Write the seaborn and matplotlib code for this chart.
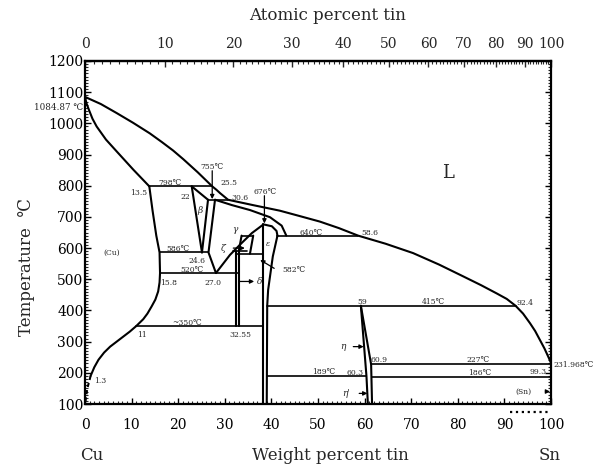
import numpy as np
import pandas as pd
import matplotlib
matplotlib.use("Agg")
import matplotlib.pyplot as plt
import matplotlib.transforms as mtransforms
from matplotlib.ticker import MultipleLocator, FixedLocator
import seaborn as sns

# ---------------- data (wt% Sn, temperature in deg C) ----------------
liquidus_wt = [0, 3.4, 6.8, 10.3, 13.9, 16.5, 18.9, 21.1, 24.2, 27.3, 28.2, 29.0, 29.9, 30.7,
               36.0, 41.8, 46.0, 50.4, 54.5, 58.6, 64.5, 70.4, 76.0, 81.2, 85.0, 88.3, 90.5,
               92.4, 94.0, 95.5, 96.6, 97.6, 98.6, 99.4, 100]
liquidus_T = [1084.87, 1062, 1033, 1002, 968, 940, 913, 885, 843, 798, 787, 776, 765, 755,
              738, 720, 703, 685, 664, 640, 614, 584, 547, 509, 481, 455, 437,
              415, 390, 359, 334, 306, 278, 252, 231.968]

alpha_solidus_wt = [0, 0.3, 0.8, 1.6, 2.5, 4.5, 6.8, 10.4, 13.8]
alpha_solidus_T = [1084.87, 1065, 1045, 1015, 990, 948, 910, 851, 798]

alpha_solvus_wt = [13.8, 14.5, 15.3, 16.0, 16.1, 16.0, 15.7, 15.1, 14.3, 13.4, 12.5, 11.0,
                   9.6, 8.2, 6.8, 5.4, 4.1, 2.9, 2.0, 1.2]
alpha_solvus_T = [798, 720, 640, 586, 520, 490, 461, 435, 413, 390, 372, 350,
                  332, 316, 300, 284, 265, 242, 218, 190]
alpha_solvus_dash_wt = [1.2, 0.5, 0.0]
alpha_solvus_dash_T = [190, 150, 100]

beta_left_wt, beta_left_T = [22.9, 25.1], [798, 586]
beta_top_wt, beta_top_T = [22.9, 26.4], [798, 755]
beta_right_wt, beta_right_T = [26.4, 25.1], [755, 586]
gamma_left_wt, gamma_left_T = [27.9, 26.5, 28.1], [755, 586, 520]
gamma_solidus_wt = [27.9, 31.5, 35.4, 39.7, 42.2, 43.2]
gamma_solidus_T = [755, 738, 722, 699, 672, 640]
gamma_dome_wt = [28.1, 31.1, 33.6, 35.8, 38.3, 40.1, 41.1, 41.3]
gamma_dome_T = [520, 578, 616, 648, 676, 670, 655, 640]
eps_left_wt, eps_left_T = [38.3, 38.3], [676, 100]
eps_right_wt = [41.3, 40.3, 39.7, 39.3, 39.1, 39.0]
eps_right_T = [640, 573, 509, 466, 415, 100]
zeta_left_wt, zeta_left_T = [33.6, 33.0], [640, 590]
zeta_right_wt, zeta_right_T = [36.1, 35.4], [640, 582]
delta_left_wt, delta_left_T = [32.5, 32.5], [590, 350]
delta_right_wt, delta_right_T = [33.1, 33.1], [590, 350]
eta_left_wt, eta_left_T = [59.2, 60.4, 60.7], [415, 189, 100]
eta_right_wt, eta_right_T = [59.2, 61.4, 61.6], [415, 227, 100]

iso_T = [798, 755, 640, 640, 590, 586, 582, 520, 415, 350, 227, 189, 186]
iso_x0 = [13.8, 26.4, 41.3, 33.6, 31.8, 16.0, 32.5, 16.1, 39.0, 11.0, 61.4, 39.0, 61.5]
iso_x1 = [27.3, 30.7, 58.6, 36.1, 34.8, 26.5, 38.3, 33.1, 92.4, 38.3, 100, 60.4, 100]

wt_ticks = list(range(0, 101, 10))
at_ticks = list(range(0, 101, 10))
T_ticks = list(range(100, 1201, 100))

labels_txt = ["798℃", "22", "755℃", "25.5", "30.6", "676℃", "640℃", "58.6", "586℃", "24.6",
              "520℃", "15.8", "27.0", "~350℃", "11", "32.55", "1.3", "59", "415℃", "92.4",
              "60.9", "227℃", "189℃", "60.3", "186℃", "99.3", "(Cu)"]
labels_wt = [18.3, 21.5, 27.2, 31.0, 33.3, 38.6, 48.6, 61.2, 20.0, 24.0,
             22.9, 17.9, 27.5, 21.8, 12.2, 33.3, 3.3, 59.4, 74.7, 94.4,
             63.0, 84.4, 51.2, 57.9, 84.8, 97.3, 5.7]
labels_T = [809, 765, 859, 808, 762, 781, 648, 648, 596, 560,
            530, 489, 489, 361, 322, 322, 175, 428, 428, 423,
            240, 241, 204, 201, 201, 204, 584]

# --------------------------------------------------------------------
sns.set_theme(style="ticks")
plt.rcParams["font.family"] = ["DejaVu Serif", "DejaVu Sans"]
plt.rcParams["mathtext.fontset"] = "dejavuserif"

fig = plt.figure(figsize=(6.04, 4.66), dpi=100)
ax = fig.add_axes([85 / 604, 62 / 466, 466 / 604, 343 / 466])

curves = [
    (liquidus_wt, liquidus_T), (alpha_solidus_wt, alpha_solidus_T),
    (alpha_solvus_wt, alpha_solvus_T), (beta_left_wt, beta_left_T),
    (beta_top_wt, beta_top_T), (beta_right_wt, beta_right_T),
    (gamma_left_wt, gamma_left_T), (gamma_solidus_wt, gamma_solidus_T),
    (gamma_dome_wt, gamma_dome_T), (eps_left_wt, eps_left_T),
    (eps_right_wt, eps_right_T), (zeta_left_wt, zeta_left_T),
    (zeta_right_wt, zeta_right_T), (delta_left_wt, delta_left_T),
    (delta_right_wt, delta_right_T), (eta_left_wt, eta_left_T),
    (eta_right_wt, eta_right_T),
]
rows = []
for i, (xs, ys) in enumerate(curves):
    for x, y in zip(xs, ys):
        rows.append({"seg": i, "wt": x, "T": y})
df_curves = pd.DataFrame(rows)

rows = []
for i, (t, a, b) in enumerate(zip(iso_T, iso_x0, iso_x1)):
    rows.append({"seg": i, "wt": a, "T": t})
    rows.append({"seg": i, "wt": b, "T": t})
df_iso = pd.DataFrame(rows)

df_dash = pd.DataFrame({"seg": 0, "wt": alpha_solvus_dash_wt, "T": alpha_solvus_dash_T})

sns.lineplot(data=df_curves, x="wt", y="T", units="seg", estimator=None, sort=False,
             color="black", lw=1.5, ax=ax)
sns.lineplot(data=df_iso, x="wt", y="T", units="seg", estimator=None, sort=False,
             color="black", lw=1.2, ax=ax)
sns.lineplot(data=df_dash, x="wt", y="T", units="seg", estimator=None, sort=False,
             color="black", lw=1.5, ls=(0, (2, 1.5)), ax=ax)

ax.set_xlim(0, 100)
ax.set_ylim(100, 1200)

# text labels
small = 5.5
for s, x, y in zip(labels_txt, labels_wt, labels_T):
    ax.text(x, y, s, fontsize=small, ha="center", va="center")
ax.text(-0.4, 1050, "1084.87 ℃", fontsize=small + 0.8, ha="right", va="center", clip_on=False)
ax.text(13.4, 777, "13.5", fontsize=small, ha="right", va="center")
ax.text(100.5, 226, "231.968℃", fontsize=small, ha="left", va="center", clip_on=False)
ax.text(42.3, 530, "582℃", fontsize=small, ha="left", va="center")
ax.text(78, 840, "L", fontsize=13, ha="center", va="center")
ax.text(24.7, 722, "β", fontsize=small + 1, style="italic", ha="center", va="center")
ax.text(32.2, 661, "γ", fontsize=small + 1, style="italic", ha="center", va="center")
ax.text(39.2, 613, "ε", fontsize=small, style="italic", ha="center", va="center")

arrow = dict(arrowstyle="-|>", color="black", lw=0.9, mutation_scale=6, shrinkA=0, shrinkB=0)
ax.annotate("", xy=(27.3, 757), xytext=(27.3, 848), arrowprops=arrow)
ax.annotate("", xy=(38.5, 679), xytext=(38.5, 768), arrowprops=arrow)
ax.annotate("", xy=(37.6, 562), xytext=(40.6, 535), arrowprops=arrow)
ax.annotate("ζ", xy=(34.3, 600), xytext=(29.7, 600), fontsize=small + 1, style="italic",
            va="center", ha="center", arrowprops=dict(arrow, shrinkA=3))
ax.annotate("", xy=(36.3, 493), xytext=(33.2, 493), arrowprops=arrow)
ax.text(37.4, 493, "δ", fontsize=small + 1, style="italic", ha="center", va="center")
ax.annotate("η", xy=(59.8, 284), xytext=(55.4, 284), fontsize=small + 1, style="italic",
            va="center", ha="center", arrowprops=dict(arrow, shrinkA=3))
ax.annotate("η'", xy=(60.6, 134), xytext=(56.1, 134), fontsize=small + 1, style="italic",
            va="center", ha="center", arrowprops=dict(arrow, shrinkA=4))
ax.annotate("(Sn)", xy=(99.8, 140), xytext=(94.0, 140), fontsize=small,
            va="center", ha="center", arrowprops=dict(arrow, shrinkA=8))

# dotted marker under the axis near pure Sn
trans = mtransforms.blended_transform_factory(ax.transData, ax.transAxes)
ax.plot([91.2, 99.8], [-0.022, -0.022], transform=trans, color="black", ls=":", lw=1.6,
        clip_on=False)

# axes / ticks
ax.set_xticks(wt_ticks)
ax.set_yticks(T_ticks)
ax.xaxis.set_minor_locator(MultipleLocator(1))
ax.yaxis.set_minor_locator(MultipleLocator(10))
ax.tick_params(axis="both", which="major", labelsize=10, direction="in", length=4, width=1,
               colors="black")
ax.tick_params(axis="both", which="minor", direction="in", length=2, width=0.8)
ax.tick_params(axis="y", which="both", right=True, pad=1)
ax.tick_params(axis="x", which="both", pad=10)
for sp in ax.spines.values():
    sp.set_visible(True)
    sp.set_linewidth(1.6)
    sp.set_color("black")


def wt2at(w):
    w = np.clip(np.asarray(w, float), 0, 100)
    a = w / 118.71
    c = (100 - w) / 63.546
    return 100 * a / np.maximum(a + c, 1e-12)


def at2wt(a):
    a = np.clip(np.asarray(a, float), 0, 100)
    m = a * 118.71
    c = (100 - a) * 63.546
    return 100 * m / np.maximum(m + c, 1e-12)


sec = ax.secondary_xaxis("top", functions=(wt2at, at2wt))
sec.set_xticks(at_ticks)
sec.xaxis.set_minor_locator(FixedLocator(np.arange(0, 100.5, 1)))
sec.tick_params(which="major", labelsize=10, direction="in", length=4, width=1, pad=7)
sec.tick_params(which="minor", direction="in", length=2, width=0.8)
sec.spines["top"].set_linewidth(1.6)

ax.set_xlabel("")
ax.set_ylabel("Temperature  ℃", fontsize=12)
ax.yaxis.set_label_coords(-0.108, 0.40)
ax.text(0.52, 1.134, "Atomic percent tin", transform=ax.transAxes, fontsize=12,
        ha="center", va="center")
ax.text(0.526, -0.149, "Weight percent tin", transform=ax.transAxes, fontsize=12,
        ha="center", va="center")
ax.text(0.015, -0.149, "Cu", transform=ax.transAxes, fontsize=12, ha="center", va="center")
ax.text(0.997, -0.149, "Sn", transform=ax.transAxes, fontsize=12, ha="center", va="center")

fig.savefig("out.png", dpi=100)
